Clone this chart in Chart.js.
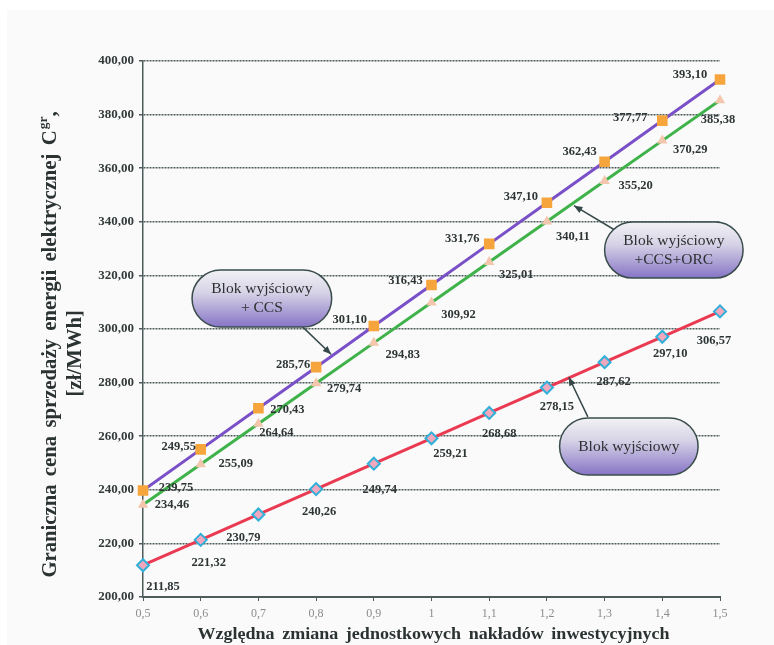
<!DOCTYPE html>
<html>
<head>
<meta charset="utf-8">
<script src="https://cdn.jsdelivr.net/npm/chart.js@4.4.1/dist/chart.umd.min.js"></script>
<style>
  html, body { margin: 0; padding: 0; background: #fff; }
  canvas { display: block; }
</style>
</head>
<body>
<canvas id="wykres" width="774" height="645"></canvas>
<script>
// względna zmiana nakładów inwestycyjnych
const xLabels = ['0,5', '0,6', '0,7', '0,8', '0,9', '1', '1,1', '1,2', '1,3', '1,4', '1,5'];

// graniczna cena sprzedaży energii [zł/MWh]
const blokWyjsciowy = [211.85, 221.32, 230.79, 240.26, 249.74, 259.21, 268.68, 278.15, 287.62, 297.10, 306.57];
const blokCCS       = [239.75, 255.09, 270.43, 285.76, 301.10, 316.43, 331.76, 347.10, 362.43, 377.77, 393.10];
const blokCCSORC    = [234.46, 249.55, 264.64, 279.74, 294.83, 309.92, 325.01, 340.11, 355.20, 370.29, 385.38];

const yMin = 200, yMax = 400, yStep = 20;

// przesunięcia etykiet wartości względem punktów [dx, dy] w px
const offWyjsciowy = [[20,22],[8,23],[-15,23],[3,23],[6,26],[19,15],[10,21],[10,19],[9,20],[8,17],[-6,29]];
const offCCS       = [[33,-3],[35,14],[29,2],[-23,-2],[-24,-6],[-26,-4],[-27,-5],[-26,-6],[-25,-10],[-32,-3],[-30,-5]];
const offCCSORC    = [[29,0],[-22,-17],[18,9],[28,5],[29,12],[27,12],[27,13],[26,15],[31,5],[28,9],[-2,20]];

const SERIF = '"Liberation Serif", "Times New Roman", serif';
const fmt = v => v.toFixed(2).replace('.', ',');

// szerokość tekstu z powiększonymi odstępami między słowami
function spacedWidth(ctx, text, extra) {
  const words = text.split(' ');
  const sp = ctx.measureText(' ').width + extra;
  return words.reduce((s, w) => s + ctx.measureText(w).width, 0) + sp * (words.length - 1);
}
function drawSpaced(ctx, text, x, y, extra) {
  const sp = ctx.measureText(' ').width + extra;
  text.split(' ').forEach(w => {
    ctx.fillText(w, x, y);
    x += ctx.measureText(w).width + sp;
  });
  return x - sp;
}

// etykiety wartości przy punktach
const etykiety = {
  id: 'etykiety',
  afterDatasetsDraw(chart) {
    const ctx = chart.ctx;
    ctx.save();
    ctx.font = 'bold 12.5px ' + SERIF;
    ctx.fillStyle = '#2e3535';
    ctx.textAlign = 'center';
    ctx.textBaseline = 'middle';
    chart.data.datasets.forEach((ds, i) => {
      const meta = chart.getDatasetMeta(i);
      meta.data.forEach((pt, j) => {
        const o = ds.labelOffsets[j];
        ctx.fillText(fmt(ds.data[j]), pt.x + o[0], pt.y + o[1]);
      });
    });
    ctx.restore();
  }
};

// dymki z opisami serii
const dymki = {
  id: 'dymki',
  afterDatasetsDraw(chart) {
    const ctx = chart.ctx;
    const xs = chart.scales.x, ys = chart.scales.y;
    // pozycja w jednostkach osi: indeks kategorii (0..10) i wartość ceny
    const px = v => xs.getPixelForValue(v);
    const py = v => ys.getPixelForValue(v);
    const boxes = [
      { x0: 0.85, x1: 3.27, y0: 322.0, y1: 300.7, lines: ['Blok wyjściowy', '+ CCS'],
        arrow: [2.77, 300.7, 3.26, 290.6] },
      { x0: 8.0, x1: 10.4, y0: 339.9, y1: 319.0, lines: ['Blok wyjściowy', '+CCS+ORC'],
        arrow: [8.35, 334.7, 7.47, 346.0] },
      { x0: 7.22, x1: 9.62, y0: 266.8, y1: 245.5, lines: ['Blok wyjściowy'],
        arrow: [7.71, 267.2, 7.38, 282.0] }
    ];
    ctx.save();
    boxes.forEach(b => {
      // strzałka
      const ax0 = px(b.arrow[0]), ay0 = py(b.arrow[1]);
      const ax1 = px(b.arrow[2]), ay1 = py(b.arrow[3]);
      ctx.strokeStyle = '#354848';
      ctx.fillStyle = '#354848';
      ctx.lineWidth = 1.5;
      ctx.beginPath();
      ctx.moveTo(ax0, ay0);
      ctx.lineTo(ax1, ay1);
      ctx.stroke();
      const ang = Math.atan2(ay1 - ay0, ax1 - ax0);
      ctx.beginPath();
      ctx.moveTo(ax1, ay1);
      ctx.lineTo(ax1 - 9 * Math.cos(ang - 0.4), ay1 - 9 * Math.sin(ang - 0.4));
      ctx.lineTo(ax1 - 9 * Math.cos(ang + 0.4), ay1 - 9 * Math.sin(ang + 0.4));
      ctx.closePath();
      ctx.fill();

      // zaokrąglony prostokąt z gradientem
      const x0 = px(b.x0), x1 = px(b.x1), y0 = py(b.y0), y1 = py(b.y1);
      const r = (y1 - y0) / 2;
      const g = ctx.createLinearGradient(0, y0, 0, y1);
      g.addColorStop(0, '#f2f2f4');
      g.addColorStop(0.4, '#d6d2e6');
      g.addColorStop(1, '#8674c6');
      ctx.beginPath();
      ctx.roundRect(x0, y0, x1 - x0, y1 - y0, r);
      ctx.fillStyle = g;
      ctx.fill();
      ctx.lineWidth = 1.5;
      ctx.strokeStyle = '#3a4c4c';
      ctx.stroke();

      ctx.fillStyle = '#2b3030';
      ctx.font = '15.5px ' + SERIF;
      ctx.textAlign = 'center';
      ctx.textBaseline = 'middle';
      const cx = (x0 + x1) / 2, cy = (y0 + y1) / 2;
      const lh = 19;
      b.lines.forEach((t, k) => {
        ctx.fillText(t, cx, cy + (k - (b.lines.length - 1) / 2) * lh);
      });
    });
    ctx.restore();
  }
};

// tytuły osi i tło
const tytuly = {
  id: 'tytuly',
  beforeDraw(chart) {
    const ctx = chart.ctx;
    ctx.save();
    ctx.fillStyle = '#ffffff';
    ctx.fillRect(0, 0, chart.width, chart.height);
    ctx.fillStyle = '#fafafa';
    ctx.fillRect(7, 10, chart.width - 7, chart.height - 10);
    ctx.restore();
  },
  afterDraw(chart) {
    const ctx = chart.ctx;
    const a = chart.chartArea;
    ctx.save();
    ctx.fillStyle = '#2b3232';
    ctx.textBaseline = 'middle';
    ctx.textAlign = 'left';

    // oś X (lekko rozciągnięta w poziomie)
    const xTitle = 'Względna zmiana jednostkowych nakładów inwestycyjnych';
    ctx.save();
    ctx.translate((a.left + a.right) / 2 + 2, 634);
    ctx.scale(1.03, 1);
    ctx.font = 'bold 17.5px ' + SERIF;
    const wx = spacedWidth(ctx, xTitle, 3);
    drawSpaced(ctx, xTitle, -wx / 2, 0, 3);
    ctx.restore();

    // oś Y (obrócona), z indeksem górnym "gr"
    const main = 'Graniczna cena sprzedaży energii elektrycznej C';
    const sup = 'gr';
    const tail = ',';
    ctx.translate(51, 345);
    ctx.rotate(-Math.PI / 2);
    ctx.scale(1.035, 1);
    ctx.font = 'bold 20px ' + SERIF;
    const wMain = spacedWidth(ctx, main, 3);
    const wTail = ctx.measureText(tail).width;
    ctx.font = 'bold 13px ' + SERIF;
    const wSup = ctx.measureText(sup).width;
    let x = -(wMain + wSup + wTail) / 2;
    ctx.font = 'bold 20px ' + SERIF;
    x = drawSpaced(ctx, main, x, 0, 3);
    ctx.font = 'bold 13px ' + SERIF;
    ctx.fillText(sup, x + 1, -7);
    x += wSup + 1;
    ctx.font = 'bold 20px ' + SERIF;
    ctx.fillText(tail, x, 0);
    ctx.textAlign = 'center';
    ctx.fillText('[zł/MWh]', -8, 25);
    ctx.restore();
  }
};

new Chart(document.getElementById('wykres'), {
  type: 'line',
  data: {
    labels: xLabels,
    datasets: [
      {
        label: 'Blok wyjściowy',
        data: blokWyjsciowy,
        labelOffsets: offWyjsciowy,
        borderColor: '#ea3a52',
        borderWidth: 3,
        pointStyle: 'rectRot',
        pointRadius: 6,
        pointBorderWidth: 2,
        pointBackgroundColor: '#f1a7bd',
        pointBorderColor: '#2fb0d8',
        tension: 0
      },
      {
        label: 'Blok wyjściowy +CCS+ORC',
        data: blokCCSORC,
        labelOffsets: offCCSORC,
        borderColor: '#3fb24a',
        borderWidth: 3,
        pointStyle: 'triangle',
        pointRadius: 6,
        pointBorderWidth: 0,
        pointBackgroundColor: '#f4c6ad',
        pointBorderColor: '#f4c6ad',
        tension: 0
      },
      {
        label: 'Blok wyjściowy + CCS',
        data: blokCCS,
        labelOffsets: offCCS,
        borderColor: '#7a50c8',
        borderWidth: 3,
        pointStyle: 'rect',
        pointRadius: 7.5,
        pointBorderWidth: 0,
        pointBackgroundColor: '#f6a53c',
        pointBorderColor: '#f6a53c',
        tension: 0
      }
    ]
  },
  options: {
    responsive: false,
    animation: false,
    devicePixelRatio: 1,
    layout: { padding: { top: 61, right: 54, left: 0, bottom: 0 } },
    plugins: {
      legend: { display: false },
      tooltip: { enabled: false }
    },
    scales: {
      x: {
        type: 'category',
        offset: false,
        afterFit: s => { s.height = 48; },
        grid: { drawOnChartArea: false, drawTicks: true, tickLength: 4, color: '#4d5b5b', lineWidth: 1 },
        border: { display: true, color: '#4d5b5b', width: 2 },
        ticks: {
          color: '#8c8c8c',
          font: { family: SERIF, size: 12 },
          padding: 6,
          maxRotation: 0,
          autoSkip: false
        }
      },
      y: {
        min: yMin,
        max: yMax,
        afterFit: s => { s.width = 143; },
        grid: { color: '#4d5b5b', lineWidth: 1.5, tickLength: 4 },
        border: { display: true, color: '#4d5b5b', width: 1.5, dash: [2, 1] },
        ticks: {
          stepSize: yStep,
          color: '#333a3a',
          font: { family: SERIF, size: 13, weight: 'bold' },
          padding: 5,
          callback: v => fmt(v)
        }
      }
    }
  },
  plugins: [tytuly, etykiety, dymki]
});
</script>
</body>
</html>
